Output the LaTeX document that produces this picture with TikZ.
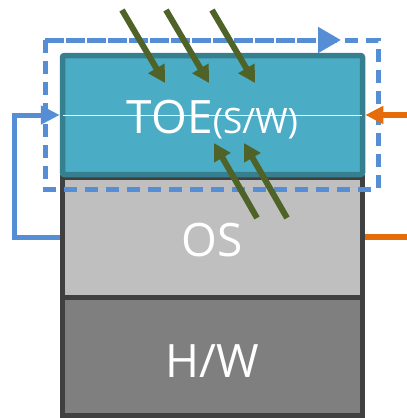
\documentclass[tikz,border=0pt]{standalone}
\usepackage{fontspec}
\setmainfont{Open Sans}
\usepackage{xcolor}
\definecolor{toeBack}    {HTML}{4BACC6}
\definecolor{toeEdge}    {HTML}{367F8F}
\definecolor{osBack}     {HTML}{BFBFBF}
\definecolor{hwBack}     {HTML}{7F7F7F}
\definecolor{layerEdge}  {HTML}{404040}
\definecolor{loopBlue}   {HTML}{558ED5}
\definecolor{extOrange}  {HTML}{E46C0A}
\definecolor{attackGreen}{HTML}{4F6228}
\usetikzlibrary{arrows.meta, positioning, calc}
\tikzset{
    layer/.style={rectangle, draw=layerEdge, line width=5pt, inner sep=0pt,
                  minimum width=300pt, minimum height=120pt},
    toelayer/.style={layer, fill=toeBack, draw=toeEdge, line width=5.5pt,
                     rounded corners=2pt, minimum height=119pt},
    oslayer/.style={layer, fill=osBack},
    hwlayer/.style={layer, fill=hwBack, minimum height=118pt},
    bigtext/.style={anchor=base, text=white, inner sep=0pt,
                    font=\fontsize{46}{50}\selectfont},
    seam/.style={-, white, line width=1pt},
    fence/.style={loopBlue, line width=5pt, dash pattern=on 13pt off 8pt},
    fencetip/.style={fence, -{Triangle[length=23pt, width=25pt]}},
    loopedge/.style={-{Triangle[length=19pt, width=18pt]}, line width=5pt, loopBlue},
    extedge/.style={-{Triangle[length=18pt, width=17pt]}, line width=6pt, extOrange},
    extline/.style={-, line width=6pt, extOrange},
    attack/.style={-{Triangle[length=17pt, width=18pt]}, line width=6pt, attackGreen},
}

\begin{document}
\begin{tikzpicture}[x=1pt, y=-1pt]
    \useasboundingbox (0,0) rectangle (407,418);
    \node[hwlayer] (hw) at (212.5,356) {};
    \node[oslayer] (os) at (212.5,237) {};
    \node[toelayer] (toe) at (212.5,115) {};
    \draw[seam] ([xshift=3pt]toe.west) -- ([xshift=-3pt]toe.east);
    \node[bigtext] (toeText) at (212.5,133) {TOE{\fontsize{35}{38}\selectfont(S/W)}};
    \node[bigtext] (osText) at (212.5,256) {OS};
    \node[bigtext] (hwText) at (212.5,377) {H/W};
    % boundary
    \coordinate (fenceNW) at (45,40);
    \coordinate (fenceSE) at (378,189);
    \coordinate (fenceTip) at (341,40);
    \draw[fence] (fenceNW) rectangle (fenceSE);
    \draw[fencetip] (fenceNW) -- (fenceTip);
    \draw[loopedge] (os.west) -- ++(-46,0) |- (toe.west);
    \coordinate (extIn) at (407,115);
    \coordinate (extOut) at (407,237);
    \draw[extedge] (extIn) -- (toe.east);
    \draw[extline] (os.east) -- (extOut);
    \foreach \i/\x in {1/122, 2/166, 3/212} {
        \coordinate (dropS\i) at (\x,10);
        \coordinate (dropE\i) at (\x+43,83);
        \draw[attack] (dropS\i) -- (dropE\i);
    }
    \foreach \i/\x in {1/257, 2/287} {
        \coordinate (riseS\i) at (\x,218);
        \coordinate (riseE\i) at (\x-43,143);
        \draw[attack] (riseS\i) -- (riseE\i);
    }
\end{tikzpicture}
\end{document}
